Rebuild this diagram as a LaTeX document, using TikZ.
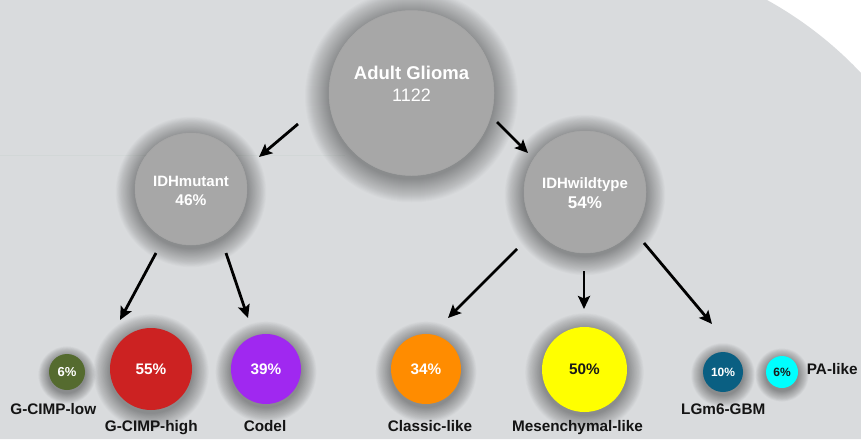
\documentclass[tikz,border=0pt]{standalone}
\usepackage{fontspec}
\setmainfont{Liberation Sans}
\usetikzlibrary{arrows.meta}
\definecolor{bg}{RGB}{217,219,221}
\definecolor{nodegray}{RGB}{167,167,167}
\definecolor{cimplow}{RGB}{85,107,47}
\definecolor{cimphigh}{RGB}{204,34,34}
\definecolor{codelc}{RGB}{160,40,240}
\definecolor{classicc}{RGB}{255,140,0}
\definecolor{mesc}{RGB}{255,255,0}
\definecolor{lgmc}{RGB}{10,95,130}
\definecolor{pac}{RGB}{0,255,255}
\definecolor{faint}{RGB}{210,215,215}
\newcommand\myglow[4]{%
  \foreach \k in {1,...,24}{%
    \fill[black,opacity=0.015] (#1,#2+3) circle[radius=#3pt+\k*#4pt];}}
\newcommand\fs[1]{\fontsize{#1}{#1}\selectfont}
\begin{document}
\begin{tikzpicture}[x=1pt,y=-1pt,
  gnode/.style={circle,fill=nodegray,draw=black!35,line width=0.5pt,inner sep=0pt},
  cnode/.style={circle,inner sep=0pt,text=white,font=\bfseries\fs{15.3}},
  lab/.style={inner sep=0pt,anchor=base,font=\bfseries\fs{15.3},text=black!92},
  gtxt/.style={inner sep=0pt,anchor=base,text=white},
  arr/.style={line width=2.8pt,-{Stealth[length=13pt,width=12pt,inset=2.5pt]}}]
\useasboundingbox (0,0) rectangle (861,439);
\fill[white] (0,0) rectangle (861,439);
\fill[bg] (0,0) -- (767,0) .. controls (802,19.4) and (833.6,43.9) .. (861,73) -- (861,439) -- (0,439) -- cycle;
\draw[faint,line width=0.6pt] (0,155) -- (345,155);
% glows
\myglow{411.5}{93}{82.5}{1.0}
\myglow{191}{189}{56}{0.8}
\myglow{585}{192}{61}{0.8}
\myglow{67}{372}{18}{0.45}
\myglow{151}{369}{41}{0.7}
\myglow{266}{369}{35}{0.65}
\myglow{426}{369}{35}{0.65}
\myglow{584.5}{369.5}{42.5}{0.7}
\myglow{723}{372}{20}{0.5}
\myglow{782}{372}{16}{0.45}
% main nodes
\node[gnode,minimum size=165pt] (ag) at (411.5,93) {};
\node[gtxt,font=\bfseries\fs{18.5}] (agt) at (411.5,79) {Adult Glioma};
\node[gtxt,font=\fs{18}] (agn) at (411.5,101) {1122};
\node[gnode,minimum size=112pt] (idhm) at (191,189) {};
\node[gtxt,font=\bfseries\fs{15}] (idhmt) at (191,186) {IDHmutant};
\node[gtxt,font=\bfseries\fs{15.5}] (idhmn) at (191,205) {46\%};
\node[gnode,minimum size=122pt] (idhw) at (585,192) {};
\node[gtxt,font=\bfseries\fs{15}] (idhwt) at (585,188) {IDHwildtype};
\node[gtxt,font=\bfseries\fs{17}] (idhwn) at (585,208) {54\%};
% subtype nodes
\node[cnode,fill=cimplow,minimum size=36pt,font=\bfseries\fs{13}] (low) at (67,372) {6\%};
\node[cnode,fill=cimphigh,minimum size=82pt] (high) at (151,369) {55\%};
\node[cnode,fill=codelc,minimum size=70pt] (codel) at (266,369) {39\%};
\node[cnode,fill=classicc,minimum size=70pt] (classic) at (426,369) {34\%};
\node[cnode,fill=mesc,minimum size=85pt,text=black!90] (mes) at (584.5,369.5) {50\%};
\node[cnode,fill=lgmc,minimum size=40pt,font=\bfseries\fs{12}] (lgm) at (723,372) {10\%};
\node[cnode,fill=pac,minimum size=32pt,font=\bfseries\fs{12},text=black!90] (pa) at (782,372) {6\%};
% labels
\node[lab] (lowl) at (53.3,414) {G-CIMP-low};
\node[lab] (highl) at (151.3,431) {G-CIMP-high};
\node[lab] (codell) at (265,431) {Codel};
\node[lab] (classicl) at (430,431) {Classic-like};
\node[lab] (mesl) at (577.5,431) {Mesenchymal-like};
\node[lab] (lgml) at (723.3,414) {LGm6-GBM};
\node[lab,anchor=base west] (pal) at (806.7,374) {PA-like};
% arrow ends
\coordinate (a1s) at (298,124); \coordinate (a1e) at (259,157);
\coordinate (a2s) at (497,122); \coordinate (a2e) at (528,153);
\coordinate (a3s) at (156,253); \coordinate (a3e) at (120,320);
\coordinate (a4s) at (226,253); \coordinate (a4e) at (248,318);
\coordinate (a5s) at (517,249); \coordinate (a5e) at (448,318);
\coordinate (a6s) at (584,271); \coordinate (a6e) at (584,309);
\coordinate (a7s) at (644,243); \coordinate (a7e) at (712,324);
\draw[arr] (a1s) -- (a1e);
\draw[arr] (a2s) -- (a2e);
\draw[arr] (a3s) -- (a3e);
\draw[arr] (a4s) -- (a4e);
\draw[arr] (a5s) -- (a5e);
\draw[arr] (a6s) -- (a6e);
\draw[arr] (a7s) -- (a7e);
\end{tikzpicture}
\end{document}
